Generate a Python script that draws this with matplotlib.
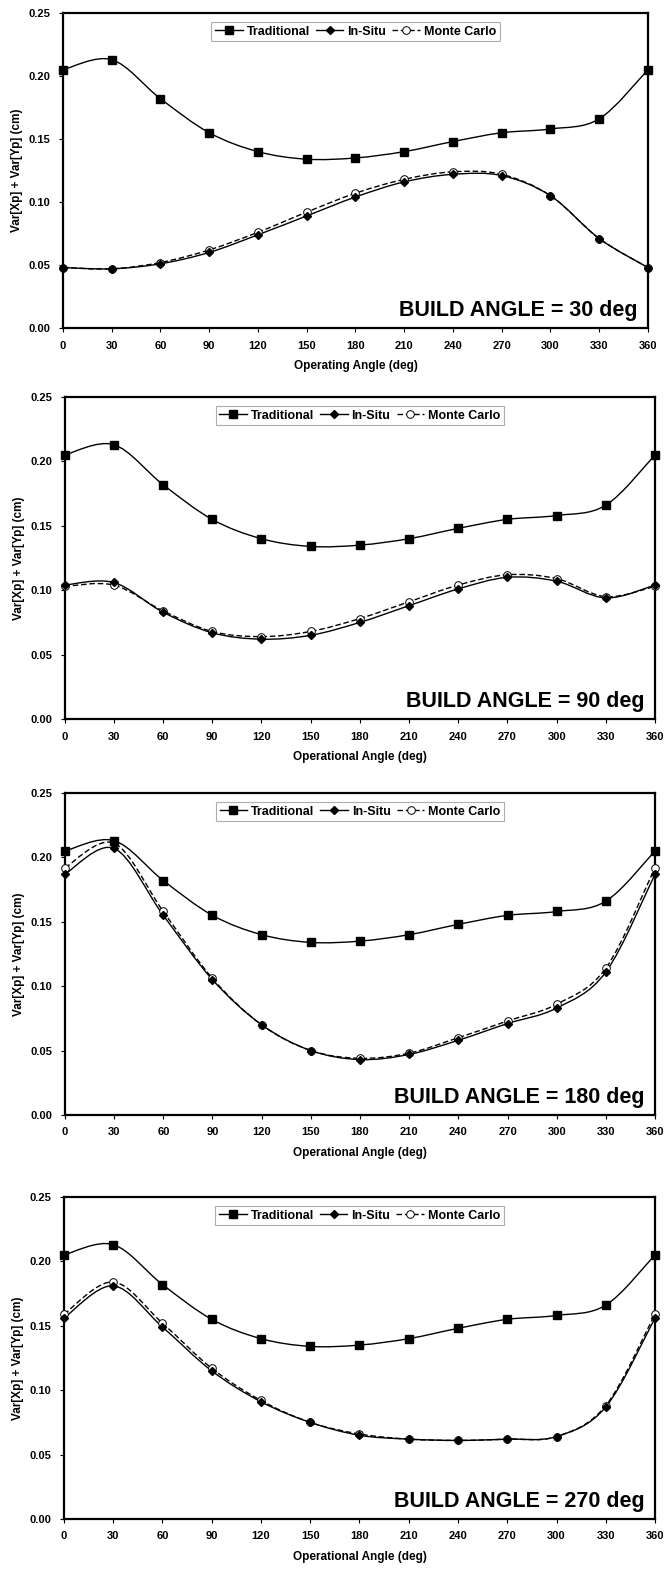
import numpy as np
import matplotlib
matplotlib.use("Agg")
import matplotlib.pyplot as plt
from matplotlib.path import Path
from matplotlib.patches import PathPatch
from matplotlib.lines import Line2D

# --- Data ---
angles = [0, 30, 60, 90, 120, 150, 180, 210, 240, 270, 300, 330, 360]

# traditional estimate is the same in every panel
traditional = [0.205, 0.213, 0.182, 0.155, 0.140, 0.134, 0.135, 0.140, 0.148, 0.155, 0.158, 0.166, 0.205]

insitu_30 = [0.048, 0.047, 0.051, 0.060, 0.074, 0.089, 0.104, 0.116, 0.122, 0.121, 0.105, 0.071, 0.048]
mc_30 = [0.048, 0.047, 0.052, 0.062, 0.076, 0.092, 0.107, 0.118, 0.124, 0.122, 0.105, 0.071, 0.048]

insitu_90 = [0.104, 0.106, 0.083, 0.067, 0.062, 0.065, 0.075, 0.088, 0.101, 0.110, 0.107, 0.094, 0.104]
mc_90 = [0.103, 0.104, 0.084, 0.068, 0.064, 0.068, 0.078, 0.091, 0.104, 0.112, 0.109, 0.095, 0.103]

insitu_180 = [0.187, 0.207, 0.155, 0.105, 0.070, 0.050, 0.043, 0.047, 0.058, 0.071, 0.083, 0.111, 0.187]
mc_180 = [0.192, 0.211, 0.158, 0.106, 0.070, 0.050, 0.044, 0.048, 0.060, 0.073, 0.086, 0.114, 0.192]

insitu_270 = [0.156, 0.181, 0.149, 0.115, 0.091, 0.075, 0.065, 0.062, 0.061, 0.062, 0.064, 0.087, 0.156]
mc_270 = [0.159, 0.184, 0.152, 0.117, 0.092, 0.075, 0.066, 0.062, 0.061, 0.062, 0.064, 0.088, 0.159]

build_angles = [30, 90, 180, 270]
insitu_all = [insitu_30, insitu_90, insitu_180, insitu_270]
mc_all = [mc_30, mc_90, mc_180, mc_270]
xlabels = ["Operating Angle (deg)", "Operational Angle (deg)",
           "Operational Angle (deg)", "Operational Angle (deg)"]
yticks = [0.00, 0.05, 0.10, 0.15, 0.20, 0.25]

plt.rcParams["font.family"] = ["Liberation Sans", "DejaVu Sans"]
plt.rcParams["font.weight"] = "bold"

# axes boxes in figure fraction (left, bottom, width, height)
boxes = [
    (0.0947, 0.7912, 0.8797, 0.2005),
    (0.0970, 0.5423, 0.8880, 0.2050),
    (0.0977, 0.2903, 0.8873, 0.2049),
    (0.0962, 0.0331, 0.8888, 0.2050),
]


def smooth_path(x, y):
    # excel-style smoothed line: catmull-rom turned into cubic bezier pieces
    p = np.column_stack([x, y]).astype(float)
    n = len(p)
    verts = [p[0]]
    codes = [Path.MOVETO]
    for i in range(n - 1):
        p0 = p[i - 1] if i > 0 else p[i]
        p1 = p[i]
        p2 = p[i + 1]
        p3 = p[i + 2] if i + 2 < n else p[i + 1]
        verts += [p1 + (p2 - p0) / 6.0, p2 - (p3 - p1) / 6.0, p2]
        codes += [Path.CURVE4, Path.CURVE4, Path.CURVE4]
    return Path(verts, codes)


fig = plt.figure(figsize=(6.65, 15.71), dpi=100)

for k in range(4):
    ax = fig.add_axes(boxes[k])
    ins = insitu_all[k]
    mc = mc_all[k]

    ax.add_patch(PathPatch(smooth_path(angles, traditional), fc="none", ec="black", lw=1.0, zorder=2))
    ax.add_patch(PathPatch(smooth_path(angles, ins), fc="none", ec="black", lw=1.0, zorder=2))
    ax.add_patch(PathPatch(smooth_path(angles, mc), fc="none", ec="black", lw=1.0,
                           linestyle=(0, (4, 2)), zorder=2))

    ax.plot(angles, traditional, ls="none", marker="s", ms=6.3, mfc="black", mec="black",
            clip_on=False, zorder=4)
    ax.plot(angles, mc, ls="none", marker="o", ms=5.5, mfc="white", mec="black", mew=0.7,
            clip_on=False, zorder=3)
    ax.plot(angles, ins, ls="none", marker="D", ms=4.0, mfc="black", mec="black",
            clip_on=False, zorder=5)

    ax.set_xlim(0, 360)
    ax.set_ylim(0, 0.25)
    ax.set_xticks(angles)
    ax.set_yticks(yticks)
    ax.set_xticklabels([str(a) for a in angles])
    ax.set_yticklabels([f"{v:.2f}" for v in yticks])
    ax.tick_params(direction="out", length=3, width=0.8, labelsize=8, pad=6)
    for lab in ax.get_xticklabels() + ax.get_yticklabels():
        lab.set_fontweight("bold")
    for s in ax.spines.values():
        s.set_linewidth(1.6)

    ax.set_xlabel(xlabels[k], fontsize=8.5, fontweight="bold", labelpad=7)
    ax.set_ylabel("Var[Xp] + Var[Yp] (cm)", fontsize=8.5, fontweight="bold", labelpad=4)

    ax.text(0.982, 0.037, f"BUILD ANGLE = {build_angles[k]} deg", transform=ax.transAxes,
            ha="right", va="baseline", fontsize=15.5, fontweight="bold")

    handles = [
        Line2D([], [], color="black", lw=1.0, marker="s", ms=6.3),
        Line2D([], [], color="black", lw=1.0, marker="D", ms=4.0),
        Line2D([], [], color="black", lw=1.0, ls=(0, (4, 2)), marker="o", ms=5.5,
               mfc="white", mew=0.7),
    ]
    leg = ax.legend(handles, ["Traditional", "In-Situ", "Monte Carlo"], loc="upper center",
                    bbox_to_anchor=(0.5, 0.992), ncol=3, frameon=True, fancybox=False,
                    handlelength=2.2, handletextpad=0.3, columnspacing=0.5,
                    borderpad=0.3, prop={"size": 9, "weight": "bold"})
    leg.get_frame().set_edgecolor("#999999")
    leg.get_frame().set_linewidth(0.8)

fig.savefig("out.png", dpi=100)
